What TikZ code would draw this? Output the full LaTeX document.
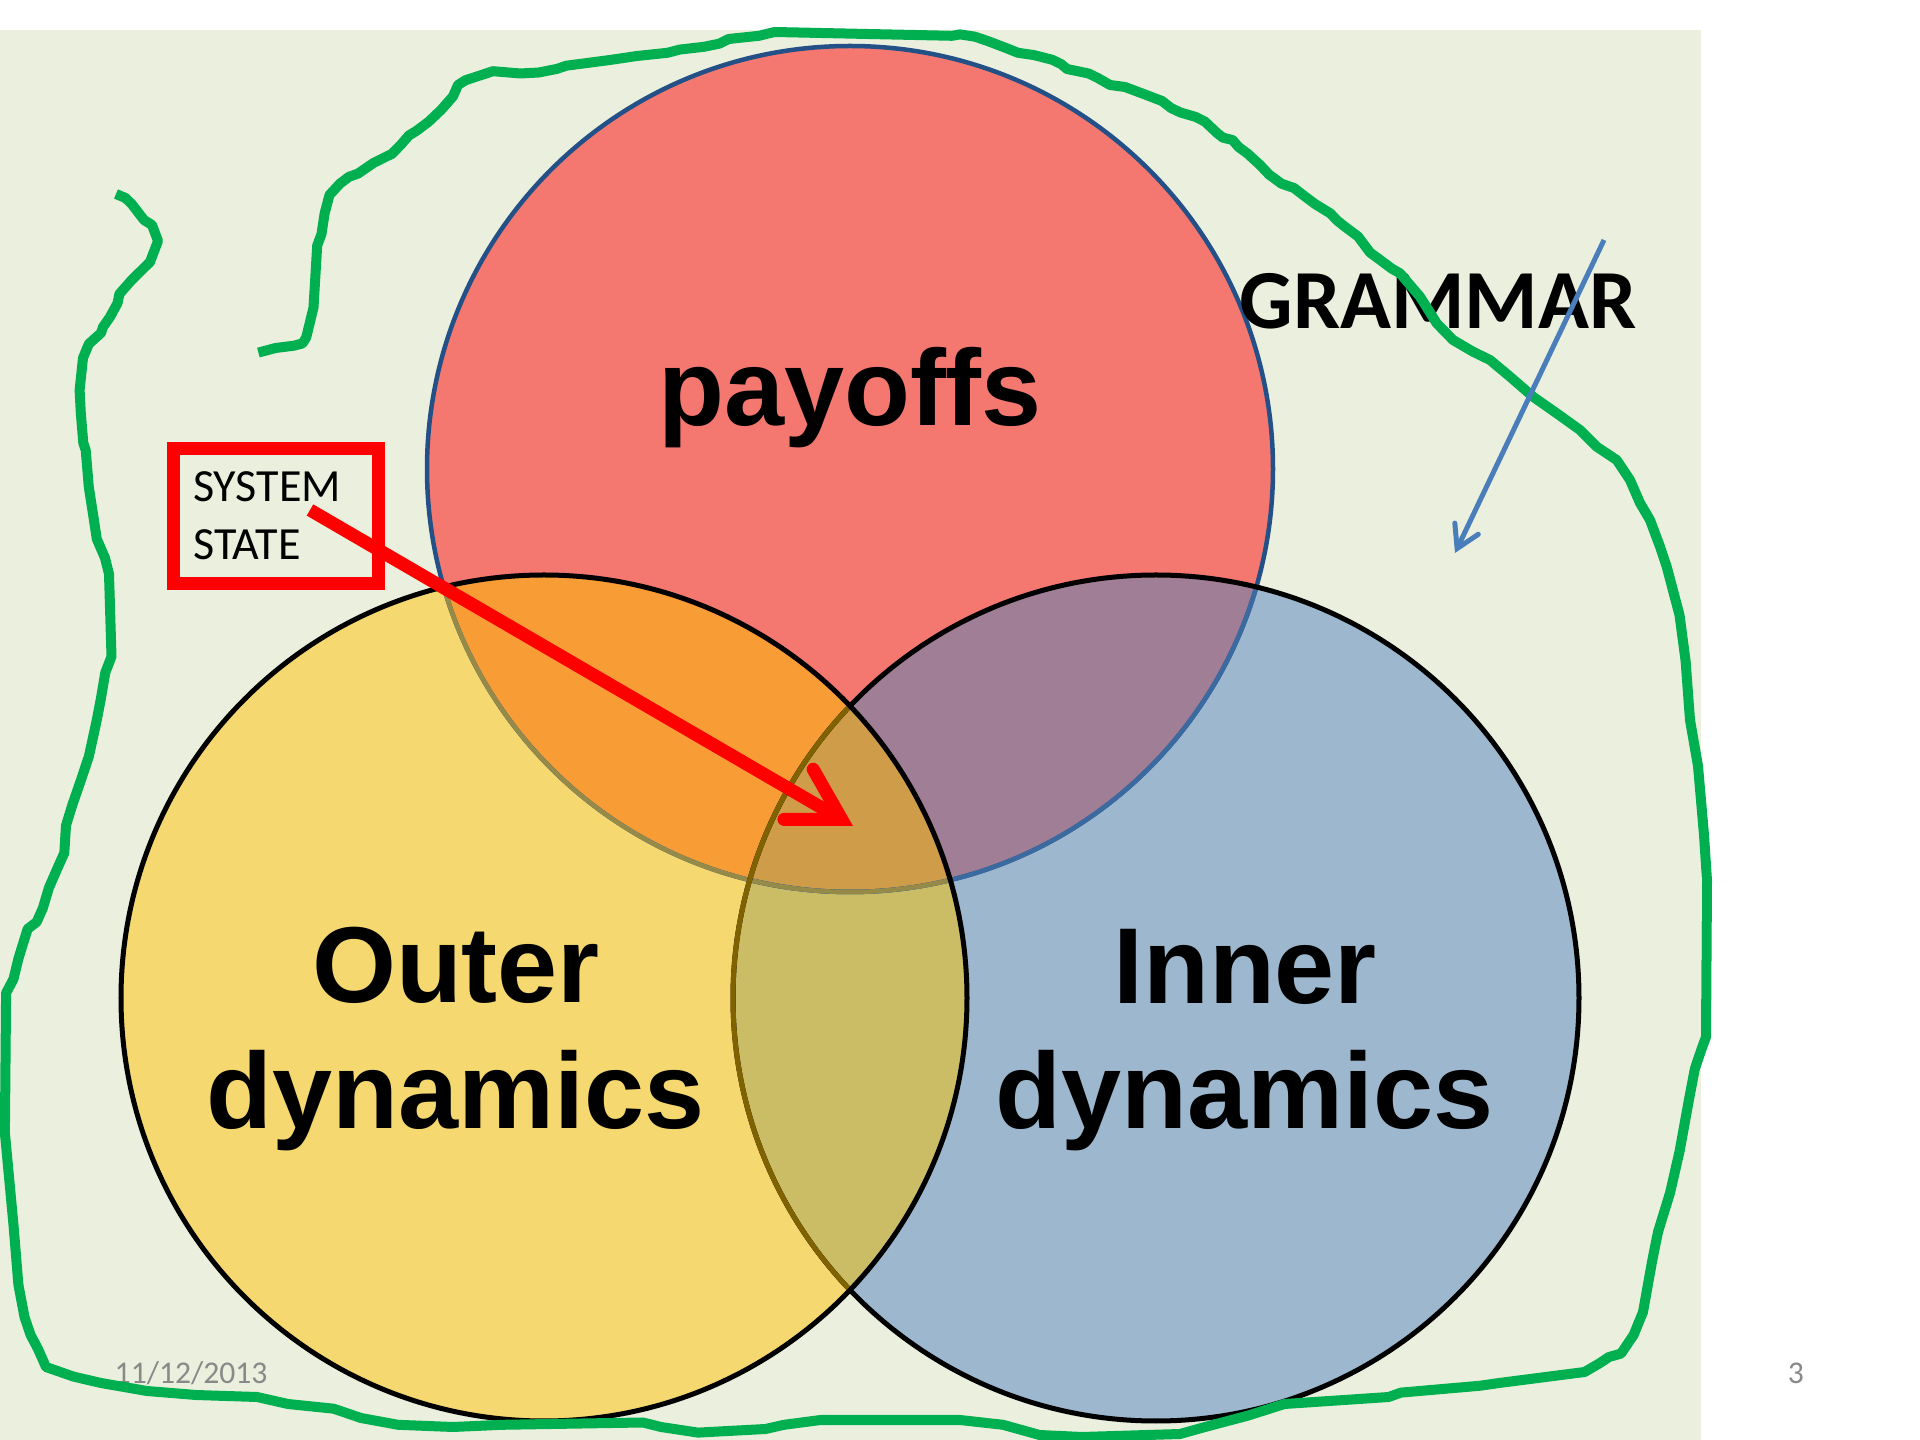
\documentclass[tikz,border=0pt]{standalone}
\usepackage{fontspec}
\setmainfont{Liberation Sans}
\newfontfamily\calib{Carlito}
\usetikzlibrary{arrows.meta}
\definecolor{bgc}{RGB}{235,240,222}
\definecolor{cred}{RGB}{244,120,112}
\definecolor{cyel}{RGB}{245,216,111}
\definecolor{cblue}{RGB}{157,184,206}
\definecolor{corange}{RGB}{248,156,54}
\definecolor{cpurple}{RGB}{160,126,150}
\definecolor{colive}{RGB}{203,188,102}
\definecolor{ccenter}{RGB}{207,156,74}
\definecolor{credb}{RGB}{35,80,135}
\definecolor{credbb}{RGB}{58,106,160}
\definecolor{credby}{RGB}{150,138,72}
\definecolor{cblueby}{RGB}{128,98,0}
\definecolor{cgreen}{RGB}{0,176,80}
\definecolor{carrowb}{RGB}{74,126,187}
\definecolor{cgray}{RGB}{137,137,137}
\def\cRed{(850,469) circle[radius=423]}
\def\cYel{(544,998) circle[radius=423]}
\def\cBlue{(1156,998) circle[radius=423]}
\tikzset{
  ringline/.style={line width=0.05cm},
  redring/.style={line width=0.045cm},
  bigtxt/.style={font=\fontsize{30.7}{35.6}\selectfont\bfseries, inner sep=0pt, align=center},
  grammartxt/.style={font=\calib\fontsize{23.9}{28}\selectfont\bfseries, inner sep=0pt},
  smalltxt/.style={font=\calib\fontsize{9}{11}\selectfont, text=cgray, inner sep=0pt},
  statebox/.style={draw=red, line width=0.125cm, font=\calib\fontsize{13.1}{16.4}\selectfont,
    align=left, text width=1.656cm, inner xsep=0.197cm, inner ysep=0pt,
    minimum width=2.05cm, minimum height=1.35cm},
  redarrow/.style={draw=red, line width=0.13cm,
    -{Straight Barb[length=0.5cm, width=0.58cm, line cap=round, line join=miter]}},
  bluearrow/.style={draw=carrowb, line width=0.05cm,
    -{Straight Barb[length=0.22cm, width=0.26cm, line cap=round, line join=miter]}},
  greenline/.style={draw=cgreen, line width=0.1cm, line join=round, line cap=butt}
}
\begin{document}
\begin{tikzpicture}[x=0.01cm, y=-0.01cm]
\useasboundingbox (0,0) rectangle (1920,1440);
\fill[white] (0,0) rectangle (1920,1440);
\fill[bgc] (0,30) rectangle (1701,1440);
% fills
\fill[cred] \cRed;
\fill[cblue] \cBlue;
\fill[cyel] \cYel;
\begin{scope}
  \clip \cYel;
  \fill[colive] \cBlue;
\end{scope}
\begin{scope}
  \clip \cRed;
  \fill[corange] \cYel;
  \fill[cpurple] \cBlue;
  \clip \cYel;
  \fill[ccenter] \cBlue;
\end{scope}
% borders
\draw[redring, draw=credb] \cRed;
\begin{scope}
  \clip \cBlue;
  \draw[redring, draw=credbb] \cRed;
\end{scope}
\begin{scope}
  \clip \cYel;
  \draw[redring, draw=credby] \cRed;
\end{scope}
\draw[ringline, draw=black] \cBlue;
\begin{scope}
  \clip \cYel;
  \draw[ringline, draw=cblueby] \cBlue;
\end{scope}
\draw[ringline, draw=black] \cYel;
% labels
\node[bigtxt, anchor=base] (pay) at (850,426) {payoffs};
\node[bigtxt, anchor=center] (outer) at (456,1039) {Outer\\dynamics};
\node[bigtxt, anchor=center] (inner) at (1245,1040) {Inner\\dynamics};
\node[grammartxt, anchor=base] (grammar) at (1438,329) {GRAMMAR};
\node[statebox] (sysstate) at (276,516) {SYSTEM\\STATE};
\node[smalltxt, anchor=base west] (date) at (114,1384) {11/12/2013};
\node[smalltxt, anchor=base] (pagenum) at (1796,1384) {3};
% green freehand boundary
\draw[greenline] plot coordinates {
(116,194) (125.5,198) (131.7,204) (144,220) (152,225) (158,241) (150,262) (131.7,280)
(119.4,294) (117.6,303) (110,317) (103,327) (101,333) (88.8,344) (83,358) (79.6,390)
(80.8,413) (83.3,443) (85.7,450) (88.8,487) (93,514) (96.8,539) (105,558) (109,574)
(111.5,656.6) (105.3,672.6) (101,698) (96.8,720)
(88.8,756.7) (79.6,784) (72.3,805) (66,825.6) (64.3,853) (58,867) (49,887.6) (42.9,908)
(36.7,922) (27.6,929) (18.4,958.7) (13.5,979) (6.1,993) (4.9,1133) (9.2,1179) (13.5,1225)
(18.4,1284.7) (24.5,1317) (30.6,1335) (38,1349) (46,1367) (73.5,1376.6) (101,1383)
(147,1391) (196,1395) (257,1397) (288,1404) (333.7,1408.7) (361,1418) (398,1424.8)
(453,1427) (502,1424.8) (643,1422.5) (661,1427) (698,1432.6) (765.5,1429) (784,1424.8)
(820.6,1420) (960,1420)
(1003,1424.8) (1039.6,1435) (1082,1437) (1180,1434) (1205,1427) (1248,1415.6) (1284.5,1404)
(1388.7,1397) (1401,1392.6) (1480.5,1385.7) (1499,1383) (1584.6,1372) (1600,1363)
(1609,1357) (1621,1353.6) (1633.6,1335) (1643,1312) (1652,1261.8) (1658,1232) (1670,1193)
(1679.5,1151.6) (1688.7,1101) (1694.8,1069) (1701,1050.6) (1706,1036.8) (1707,880.7)
(1704,834.8) (1698,766) (1690,720)
(1685.6,661) (1679.5,615) (1673.4,592) (1666.7,566.7) (1660,546.7) (1650,520) (1640,503)
(1630,480) (1616.7,460) (1596.7,446.7) (1580,430) (1556.7,413.3) (1533,396.7) (1510,376.7)
(1490,360) (1473,351.7) (1453,340) (1436.7,323.3) (1420,296.7) (1400,273.3)
(1391.7,268.6) (1382.5,261.7) (1370,252.5) (1358,236.5) (1352,232) (1342.7,225)
(1336.6,220) (1330.5,213.5) (1315,204) (1303,195) (1294,188) (1281.5,183.7) (1269,174.5)
(1260,165) (1247.8,153.8) (1238.6,147) (1232.5,140) (1223,137.7) (1217,133) (1205,121.7)
(1195.8,117) (1180.5,112.5) (1171,108) (1162,101) (1143.7,94) (1125,87) (1110,85)
(1097.8,78) (1088.6,73.5) (1067,69) (1061,64) (1052,59.7) (1033.5,55) (1018,52.8)
(1006,48) (987.6,41) (975,36.7) (960,34.4)
(952,35.8) (774.6,32) (759,35.8) (728.7,39) (719.5,43.6) (704,46.8) (679.7,49.6)
(667.5,52.8) (636.9,56) (612,59.7) (587.9,62.9) (566.4,65.7) (557,68.9) (538.9,72.5)
(520.5,73.5) (493,71.2) (465.4,80.3) (458,85) (453,96.4) (441,110) (428.7,121.7)
(416.4,130.9) (409,135.4) (401,144.6) (392,153.8) (373.5,163) (358,173.6) (349,176.8)
(339.9,183.7) (329.5,195) (324.6,213.5) (321.5,234) (317.2,245.6) (313.5,307.6)
(306.2,337.5) (302.5,343.4) (294,345.7) (275.6,348) (258.4,352.6)
};
% arrows
\coordinate (ssA) at (310,510);
\coordinate (redtip) at (853,826);
\draw[redarrow] (ssA) -- (redtip);
\coordinate (gA) at (1604,240);
\coordinate (gB) at (1455,553);
\draw[bluearrow] (gA) -- (gB);
\end{tikzpicture}
\end{document}
